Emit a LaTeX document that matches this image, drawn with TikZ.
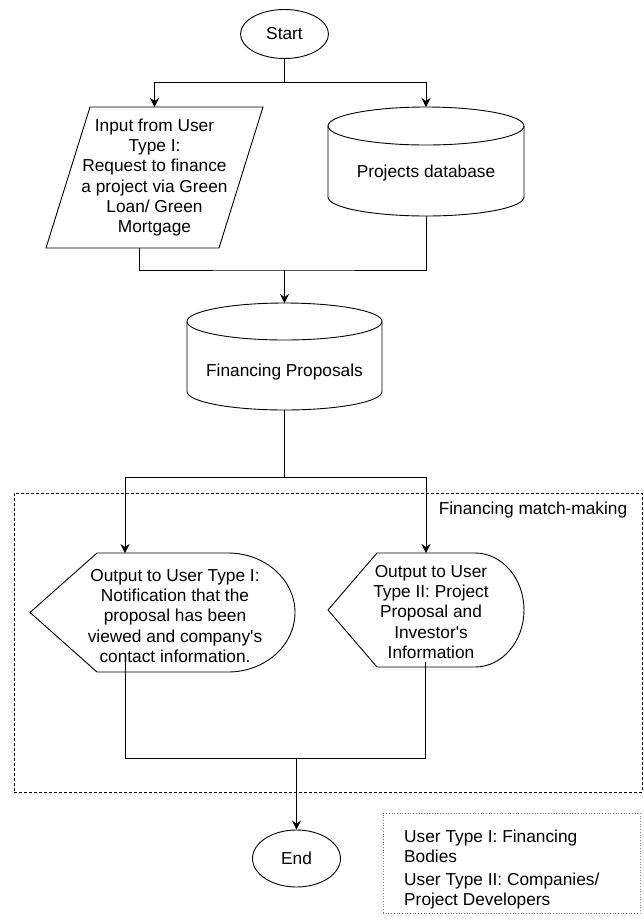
\documentclass[tikz,border=0pt]{standalone}
\usepackage{fontspec}
\setmainfont{Liberation Sans}
\usetikzlibrary{calc}
\usetikzlibrary{arrows.meta}
\usetikzlibrary{shapes.geometric}
\tikzset{fcp/.style={
  x=1pt,
  y=1pt,
  font=\fontsize{17.3pt}{20.3pt}\selectfont
}}
\tikzset{fcl/.style={draw, line width=0.9pt}}
\tikzset{fca/.style={fcl, -{Stealth[length=9pt,width=9pt,inset=3pt]}}}
\tikzset{term/.style={
  draw,
  line width=0.9pt,
  shape=ellipse,
  minimum width=88pt,
  minimum height=49pt,
  inner sep=0pt
}}
\tikzset{box/.style={inner sep=0pt, outer sep=0pt}}
\tikzset{txt/.style={align=center, inner sep=0pt}}
\tikzset{grp/.style={draw, dash pattern=on 3pt off 2pt, line width=0.9pt}}
\tikzset{keybox/.style={draw=gray, dotted, line width=0.7pt}}
% cylinder round a node: node, x radius, y radius
\newcommand{\dbcyl}[3]{%
  \draw[fcl] ($(#1.north)+(0,-#3)$) ellipse[x radius=#2, y radius=#3];
  \draw[fcl] ($(#1.north west)+(0,-#3)$) -- ($(#1.south west)+(0,#3)$)
    arc[start angle=180, end angle=360, x radius=#2, y radius=#3]
    -- ($(#1.north east)+(0,-#3)$);
}
% display shape round a node: node, point depth, y radius
\newcommand{\dispshp}[3]{%
  \draw[fcl] (#1.west) -- ($(#1.north west)+(#2,0)$)
    -- ($(#1.north east)+(-#2,0)$)
    arc[start angle=90, end angle=-90, x radius=#2, y radius=#3]
    -- ($(#1.south west)+(#2,0)$) -- cycle;
}
% input parallelogram round a node: node, slant
\newcommand{\iobox}[2]{%
  \draw[fcl] ($(#1.north west)+(#2,0)$) -- ($(#1.north east)+(#2,0)$)
    -- ($(#1.south east)+(-#2,0)$) -- ($(#1.south west)+(-#2,0)$) -- cycle;
}
\begin{document}
\begin{tikzpicture}[fcp]
    \useasboundingbox (0,0) rectangle (644,-922);

    % Start and inputs
    \node[term] (start) at (284.5,-34) {Start};
    \node[box, txt, minimum width=173pt, minimum height=141pt] (in) at (154.5,-177.5)
      {Input from User\\ Type I:\\ Request to finance\\ a project via Green\\ Loan/ Green\\ Mortgage};
    \iobox{in}{22}
    \node[box, minimum width=196pt, minimum height=109pt] (pdb) at (426,-161.5) {};
    \dbcyl{pdb}{98}{19}
    \node[txt] (pdbt) at ($(pdb.center)+(0,-11.5)$) {Projects database};

    \coordinate (j1) at ($(start.south)+(0,-23.5)$);
    \draw[fcl] (start) -- (j1);
    \draw[fca] (j1) -| (in.north);
    \draw[fca] (j1) -| (pdb.north);

    % Proposals
    \node[box, minimum width=195pt, minimum height=107pt] (fp) at (284.5,-356.5) {};
    \dbcyl{fp}{97.5}{18.5}
    \node[txt] (fpt) at ($(fp.center)+(0,-15.5)$) {Financing Proposals};

    \coordinate (inout) at ($(in.south)+(-15.5,0)$);
    \coordinate (j2) at ($(fp.north)+(0,33)$);
    \draw[fcl] (inout) |- (j2) -| (pdb.south);
    \draw[fca] (j2) -- (fp.north);

    % Match-making group
    \node[grp, minimum width=628pt, minimum height=299pt] (mm) at (328,-642.5) {};
    \node[txt, anchor=east] (mmt) at ($(mm.north east)+(-15,-17)$) {Financing match-making};

    \node[box, minimum width=265pt, minimum height=119pt] (outL) at (162.5,-612.5) {};
    \dispshp{outL}{67}{59.5}
    \node[txt] (outLt) at ($(outL.center)+(12.5,-3.5)$)
      {Output to User Type I:\\ Notification that the\\ proposal has been\\
       viewed and company\textquotesingle s\\ contact information.};
    \node[box, minimum width=196pt, minimum height=114pt] (outR) at (426,-610) {};
    \dispshp{outR}{49}{57}
    \node[txt] (outRt) at ($(outR.center)+(5,-2)$)
      {Output to User\\ Type II: Project\\ Proposal and\\ Investor\textquotesingle s\\ Information};

    \coordinate (j3) at ($(fp.south)+(0,-67)$);
    \coordinate (outLin) at ($(outL.north west)+(95,0)$);
    \draw[fcl] (fp.south) -- (j3);
    \draw[fca] (j3) -| (outLin);
    \draw[fca] (j3) -| (outR.north);

    % End
    \node[term, minimum height=57pt] (end) at (296.5,-858.5) {End};
    \coordinate (outLout) at ($(outL.south west)+(95,15)$);
    \coordinate (outRout) at ($(outR.south)+(-1,5)$);
    \coordinate (j4) at ($(end.north)+(0,71)$);
    \draw[fcl] (outLout) |- (j4) -| (outRout);
    \draw[fca, line width=1.5pt] (j4) -- (end.north);

    % Key
    \node[keybox, minimum width=257pt, minimum height=100pt] (key) at (511.5,-863) {};
    \node[txt, align=left, anchor=west] (keyt) at (404,-869.5)
      {User Type I: Financing\\ Bodies\\[3pt] User Type II: Companies/\\ Project Developers};

  \end{tikzpicture}
\end{document}
